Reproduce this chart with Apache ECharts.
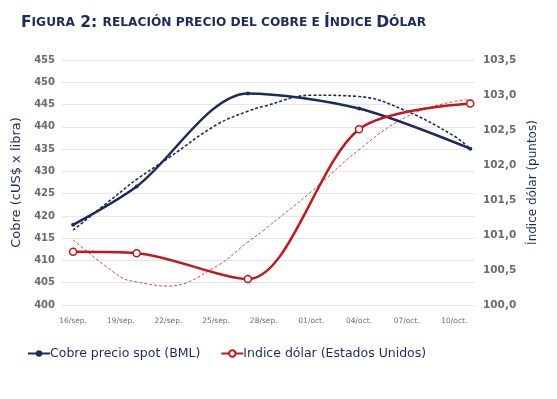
<!DOCTYPE html>
<html>
<head>
<meta charset="utf-8">
<script src="https://cdn.jsdelivr.net/npm/echarts@6/dist/echarts.min.js"></script>
<style>
  html, body { margin: 0; padding: 0; background: #fff; }
  #chart { width: 557px; height: 399px; }
</style>
</head>
<body>
<div id="chart"></div>
<script>
// etiquetas del eje x (cada 3 días, día 0 = 16/sep.)
const dayLabels = ['16/sep.', '19/sep.', '22/sep.', '25/sep.', '28/sep.', '01/oct.', '04/oct.', '07/oct.', '10/oct.'];
const labelDays = [0, 3, 6, 9, 12, 15, 18, 21, 24];

// observaciones
const obsDays = [0, 4, 11, 18, 25];
const cobre = [418.0, 426.6, 447.5, 444.1, 435.1];
const dolar = [100.76, 100.74, 100.37, 102.51, 102.88];

// líneas de tendencia
const trendDays = [0, 3, 4, 6, 9, 11, 12, 15, 18, 21, 24, 25];
const cobreTrend = [416.8, 425.4, 428.2, 433.0, 440.4, 443.5, 444.6, 447.1, 446.8, 443.5, 437.9, 435.1];
const dolarTrend = [100.93, 100.40, 100.33, 100.27, 100.55, 100.90, 101.07, 101.62, 102.22, 102.69, 102.91, 102.93];

const navy = '#1c2b5c';
const red = '#c4161c';
const tickColor = '#6b6b6b';
const font = 'DejaVu Sans';

const pairs = (xs, ys) => xs.map((x, i) => [x, ys[i]]);

const chart = echarts.init(document.getElementById('chart'));

const option = {
  backgroundColor: '#fff',
  animation: false,
  textStyle: { fontFamily: font },
  title: {
    left: 16,
    top: 10,
    text: '{b|F}{s|IGURA}{b| 2: }{s|RELACIÓN PRECIO DEL COBRE E }{b|Í}{s|NDICE }{b|D}{s|ÓLAR}',
    textStyle: {
      rich: {
        b: { fontFamily: font, fontWeight: 'bold', fontSize: 15.5, color: navy },
        s: { fontFamily: font, fontWeight: 'bold', fontSize: 12.2, color: navy }
      }
    }
  },
  legend: {
    left: 22,
    top: 342,
    itemGap: 20,
    itemWidth: 22,
    itemHeight: 8,
    data: ['Cobre precio spot (BML)', 'Indice dólar (Estados Unidos)'],
    textStyle: { fontFamily: font, fontSize: 12.5, color: navy, padding: [0, 0, 0, -5] }
  },
  grid: { left: 62, right: 82, top: 60, bottom: 94 },
  xAxis: {
    type: 'value',
    min: -0.7,
    max: 25.3,
    splitLine: { show: false },
    axisLine: { show: false },
    axisTick: { show: false },
    axisLabel: {
      customValues: labelDays,
      formatter: v => dayLabels[Math.round(v / 3)],
      fontFamily: font,
      fontSize: 7.5,
      color: tickColor,
      margin: 12
    }
  },
  yAxis: [
    {
      type: 'value',
      min: 400,
      max: 455,
      interval: 5,
      name: 'Cobre (cUS$ x libra)',
      nameLocation: 'middle',
      nameGap: 37,
      nameTextStyle: { fontFamily: font, fontSize: 13, color: navy },
      axisLine: { show: false },
      axisTick: { show: false },
      axisLabel: { fontFamily: font, fontWeight: 'bold', fontSize: 10, color: tickColor, margin: 7 },
      splitLine: { lineStyle: { color: '#e6e6e6', width: 1 } }
    },
    {
      type: 'value',
      min: 100,
      max: 103.5,
      interval: 0.5,
      name: 'Índice dólar (puntos)',
      nameLocation: 'middle',
      nameRotate: 90,
      nameGap: 42,
      nameTextStyle: { fontFamily: font, fontSize: 12, color: navy },
      axisLine: { show: false },
      axisTick: { show: false },
      axisLabel: {
        fontFamily: font, fontWeight: 'bold', fontSize: 10.5, color: tickColor, margin: 8,
        formatter: v => v.toFixed(1).replace('.', ',')
      },
      splitLine: { show: false }
    }
  ],
  series: [
    {
      name: 'Cobre precio spot (BML)',
      type: 'line',
      yAxisIndex: 0,
      data: pairs(obsDays, cobre),
      smooth: 0.3,
      symbol: 'circle',
      symbolSize: 4,
      itemStyle: { color: navy },
      lineStyle: { color: navy, width: 2.5 },
      z: 4
    },
    {
      name: 'Indice dólar (Estados Unidos)',
      type: 'line',
      yAxisIndex: 1,
      data: pairs(obsDays, dolar),
      smooth: 0.3,
      symbol: 'circle',
      symbolSize: 7,
      itemStyle: { color: '#fff', borderColor: red, borderWidth: 1.5 },
      lineStyle: { color: red, width: 2.5 },
      z: 4
    },
    {
      name: 'Tendencia cobre',
      type: 'line',
      yAxisIndex: 0,
      data: pairs(trendDays, cobreTrend),
      smooth: 0.4,
      showSymbol: false,
      lineStyle: { color: navy, width: 1.6, type: [3, 2] },
      z: 3
    },
    {
      name: 'Tendencia dólar',
      type: 'line',
      yAxisIndex: 1,
      data: pairs(trendDays, dolarTrend),
      smooth: 0.4,
      showSymbol: false,
      lineStyle: { color: '#d44a4a', width: 1, type: [3, 2] },
      z: 3
    }
  ]
};

chart.setOption(option);
</script>
</body>
</html>
